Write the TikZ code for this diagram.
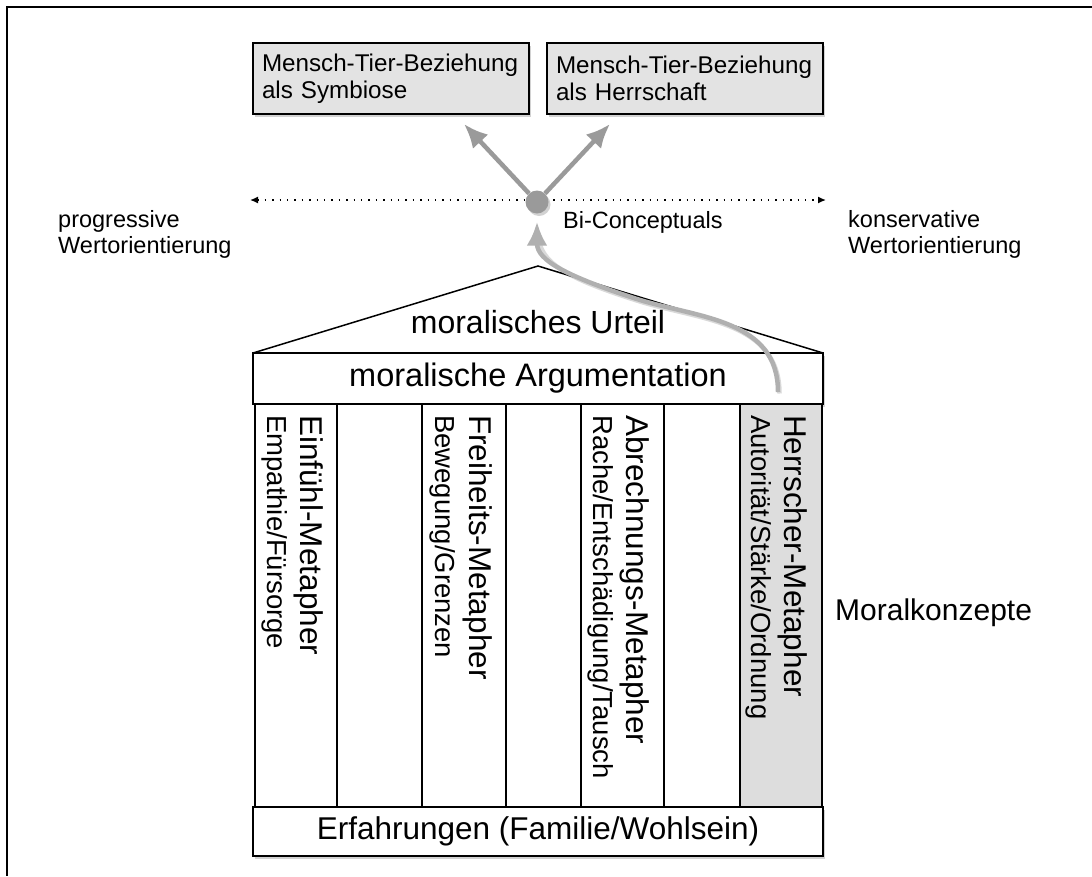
\documentclass[tikz,border=0pt]{standalone}
\usepackage{fontspec}
\setmainfont{Liberation Sans}
\usetikzlibrary{arrows.meta,shadows,calc}
\definecolor{boxgray}{HTML}{E3E3E3}
\definecolor{colgray}{HTML}{DDDDDD}
\definecolor{arrgray}{HTML}{9A9A9A}
\definecolor{curvegray}{HTML}{B0B0B0}
\newcommand\myfs[2]{\fontsize{#1}{#2}\selectfont}
\begin{document}
\begin{tikzpicture}[x=1pt,y=-1pt,
  myshade/.style={drop shadow={opacity=0.35,shadow xshift=2pt,shadow yshift=-2.5pt}},
  topbox/.style={draw,line width=1.5pt,fill=boxgray,myshade,anchor=north west,
    minimum width=276pt,minimum height=71pt,text width=258pt,align=left,
    inner sep=9pt,outer sep=0pt,font=\myfs{24.2}{26.5}},
  widebox/.style={draw,line width=1.5pt,fill=white,myshade,anchor=north west,
    minimum width=570pt,inner sep=0pt,outer sep=0pt,font=\myfs{31.5}{34}},
  colbox/.style={draw,line width=1.2pt,anchor=north west,minimum height=403pt,
    inner sep=0pt,outer sep=0pt},
  coltitle/.style={rotate=-90,anchor=base west,inner sep=0pt,font=\myfs{31.5}{34}},
  colsub/.style={rotate=-90,anchor=base west,inner sep=0pt,font=\myfs{27.5}{30}},
  sidelabel/.style={anchor=west,align=left,inner sep=0pt,font=\myfs{23.5}{26}},
  garrow/.style={draw=arrgray,line width=4.5pt,-{Latex[length=24pt,width=21pt]}},
  carrow/.style={draw=curvegray,line width=4.5pt,-{Latex[length=24pt,width=21pt]}},
  dotarrow/.style={line width=1.4pt,dash pattern=on 1.4pt off 6pt,
    {Latex[length=8pt,width=7pt]}-{Latex[length=8pt,width=7pt]}},
]
\useasboundingbox (0,0) rectangle (1092,876);
\fill[white] (0,0) rectangle (1092,876);
% frame
\draw[line width=2pt] (1092,7) -- (7,7) -- (7,876);

% top boxes
\node[topbox] (sym) at (253,43) {Mensch-Tier-Beziehung\\als Symbiose};
\node[topbox] (herr) at (547,43) {Mensch-Tier-Beziehung\\als Herrschaft};

% scale line
\coordinate (ldot) at (250,200);
\coordinate (rdot) at (826,200);
\draw[dotarrow] (ldot) -- (rdot);
\node[circle,fill=arrgray,minimum size=23pt,inner sep=0pt,myshade] (bi) at (537,202) {};
\node[anchor=base west,inner sep=0pt,font=\myfs{23.5}{26}] (bilabel) at (563,228) {Bi-Conceptuals};
\node[sidelabel] (prog) at (58,234) {progressive\\Wertorientierung};
\node[sidelabel] (kons) at (848,234) {konservative\\Wertorientierung};

\coordinate (t1) at (464,124);
\coordinate (t2) at (610,124);
\draw[garrow] (bi) -- (t1);
\draw[garrow] (bi) -- (t2);

% roof
\coordinate (rl) at (253,353);
\coordinate (rt) at (538,266);
\coordinate (rr) at (823,353);
\draw[line width=1.5pt,fill=white] (rl) -- (rt) -- (rr);
\node[inner sep=0pt,font=\myfs{32}{34}] (urteil) at (538,322) {moralisches Urteil};

% argumentation
\node[widebox,minimum height=51pt,font=\myfs{32.5}{35}] (arg) at (253,353) {moralische Argumentation};

% columns
\node[colbox,fill=white,minimum width=82pt] (c1) at (255,404) {};
\node[colbox,fill=white,minimum width=85pt] (c2) at (337,404) {};
\node[colbox,fill=white,minimum width=84pt] (c3) at (422,404) {};
\node[colbox,fill=white,minimum width=75pt] (c4) at (506,404) {};
\node[colbox,fill=white,minimum width=83pt] (c5) at (581,404) {};
\node[colbox,fill=white,minimum width=76pt] (c6) at (664,404) {};
\node[colbox,fill=colgray,minimum width=82pt] (c7) at (740,404) {};

\node[coltitle] (t1a) at (300,415) {Einfühl-Metapher};
\node[colsub] (t1b) at (267,415) {Empathie/Fürsorge};
\node[coltitle] (t3a) at (469,415) {Freiheits-Metapher};
\node[colsub] (t3b) at (435,415) {Bewegung/Grenzen};
\node[coltitle] (t5a) at (626,415) {Abrechnungs-Metapher};
\node[colsub] (t5b) at (593,415) {Rache/Entschädigung/Tausch};
\node[coltitle] (t7a) at (784,415) {Herrscher-Metapher};
\node[colsub] (t7b) at (751,415) {Autorität/Stärke/Ordnung};

% base
\node[widebox,minimum height=49pt] (erf) at (253,807) {Erfahrungen (Familie/Wohlsein)};

\node[anchor=base west,inner sep=0pt,font=\myfs{30}{33}] (moral) at (835,620) {Moralkonzepte};

% curved arrow
\coordinate (cstart) at (778,392);
\draw[black,opacity=0.15,line width=4.5pt] ($(cstart)+(1.5,1.5)$) .. controls (779.5,321.5) and (700,320) .. (640,301.5) .. controls (565,278) and (538.5,262) .. (538.5,234);
\draw[carrow,shorten >=8pt] (cstart) .. controls (778,320) and (700,318) .. (640,300) .. controls (565,276) and (537,260) .. (bi.south);
\end{tikzpicture}
\end{document}
